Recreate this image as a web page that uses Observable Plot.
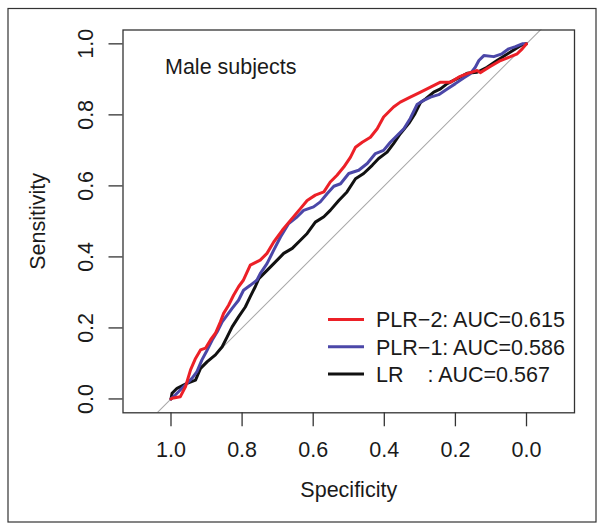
<!DOCTYPE html>
<html>
<head>
<meta charset="utf-8">
<script src="https://cdn.jsdelivr.net/npm/d3@7"></script>
<script src="https://cdn.jsdelivr.net/npm/@observablehq/plot@0.6"></script>
<style>
  html, body { margin: 0; padding: 0; background: #fff; }
  #chart { width: 604px; height: 531px; }
</style>
</head>
<body>
<div id="chart"></div>
<script>
// ---- data ----
const seriesNames = ["LR", "PLR-1", "PLR-2"];
const legendLabels = ["PLR\u22122: AUC=0.615", "PLR\u22121: AUC=0.586", "LR    : AUC=0.567"];
const legendSeries = ["PLR-2", "PLR-1", "LR"];
const xTicks = [1.0, 0.8, 0.6, 0.4, 0.2, 0.0];
const yTicks = [0.0, 0.2, 0.4, 0.6, 0.8, 1.0];
const refLine = [-0.2, 1.2];

const spec_PLR2 = [1.000,0.997,0.974,0.959,0.945,0.931,0.917,0.903,0.889,0.875,0.861,0.852,0.838,0.824,0.810,0.796,0.777,0.749,0.730,0.711,0.687,0.664,0.636,0.617,0.594,0.570,0.552,0.533,0.514,0.495,0.481,0.462,0.439,0.420,0.402,0.388,0.374,0.355,0.327,0.298,0.270,0.242,0.214,0.191,0.167,0.139,0.130,0.102,0.073,0.045,0.026,0.012,0.000];
const sens_PLR2 = [0.000,0.002,0.006,0.035,0.082,0.114,0.138,0.143,0.166,0.185,0.217,0.241,0.264,0.292,0.316,0.335,0.377,0.391,0.410,0.442,0.475,0.503,0.536,0.559,0.574,0.583,0.611,0.630,0.653,0.681,0.709,0.723,0.737,0.761,0.794,0.808,0.822,0.836,0.850,0.864,0.878,0.892,0.892,0.906,0.916,0.925,0.919,0.936,0.953,0.964,0.972,0.986,1.000];

const spec_PLR1 = [1.000,0.988,0.964,0.941,0.927,0.913,0.898,0.884,0.870,0.856,0.842,0.828,0.810,0.796,0.777,0.758,0.749,0.730,0.711,0.692,0.669,0.645,0.627,0.599,0.580,0.561,0.542,0.523,0.500,0.472,0.448,0.425,0.402,0.383,0.364,0.345,0.327,0.308,0.289,0.270,0.247,0.223,0.200,0.177,0.158,0.144,0.134,0.120,0.092,0.069,0.050,0.031,0.012,0.000];
const sens_PLR1 = [0.000,0.011,0.035,0.058,0.077,0.110,0.138,0.166,0.189,0.217,0.236,0.255,0.278,0.306,0.320,0.335,0.353,0.381,0.419,0.456,0.494,0.513,0.531,0.541,0.555,0.578,0.599,0.606,0.635,0.644,0.663,0.691,0.700,0.723,0.742,0.761,0.790,0.829,0.841,0.850,0.857,0.873,0.888,0.904,0.916,0.934,0.953,0.967,0.964,0.972,0.986,0.992,1.000,1.000];

const spec_LR = [1.000,0.997,0.983,0.955,0.931,0.917,0.898,0.875,0.856,0.842,0.828,0.810,0.791,0.777,0.763,0.753,0.734,0.711,0.683,0.659,0.636,0.617,0.594,0.570,0.552,0.528,0.505,0.481,0.458,0.434,0.416,0.392,0.374,0.355,0.331,0.315,0.298,0.284,0.261,0.242,0.223,0.195,0.167,0.139,0.111,0.083,0.045,0.017,0.003,0.000];
const sens_LR = [0.000,0.016,0.030,0.044,0.053,0.086,0.105,0.124,0.147,0.175,0.203,0.231,0.259,0.288,0.316,0.339,0.358,0.381,0.410,0.424,0.447,0.466,0.498,0.513,0.531,0.559,0.583,0.620,0.635,0.658,0.677,0.695,0.719,0.747,0.776,0.801,0.835,0.845,0.864,0.873,0.888,0.902,0.917,0.920,0.934,0.953,0.977,0.995,1.000,1.000];

const colors = {"LR": "#111111", "PLR-1": "#4b47a8", "PLR-2": "#ec2027"};

// ---- build table ----
const rows = [];
function add(name, xs, ys) { xs.forEach((x, i) => rows.push({series: name, spec: x, sens: ys[i]})); }
add("LR", spec_LR, sens_LR);
add("PLR-1", spec_PLR1, sens_PLR1);
add("PLR-2", spec_PLR2, sens_PLR2);

const FONT = "'Liberation Sans', Arial, Helvetica, sans-serif";
const FS = 21.5;

const plot = Plot.plot({
  width: 604,
  height: 531,
  marginLeft: 122.5,
  marginRight: 30,
  marginTop: 29.5,
  marginBottom: 118.7,
  style: {fontFamily: FONT, fontSize: FS + "px", color: "#1a1a1a", background: "#fff"},
  x: {domain: [1.135, -0.135]},
  y: {domain: [-0.039, 1.039]},
  marks: [
    Plot.line(refLine, {x: d => d, y: d => 1 - d, stroke: "#aaaaaa", strokeWidth: 1.1, clip: true}),
    ...seriesNames.map(name => Plot.line(rows.filter(r => r.series === name), {
      x: "spec", y: "sens", stroke: colors[name], strokeWidth: 3, strokeLinejoin: "round", curve: "linear"
    })),
    Plot.frame({stroke: "#333", strokeWidth: 1.3}),
    Plot.axisX({ticks: xTicks, tickFormat: d3.format(".1f"), tickSize: 14, tickPadding: 15,
      stroke: "#333", strokeWidth: 1.3, fontSize: FS,
      label: "Specificity", labelAnchor: "center", labelOffset: 84, labelArrow: false}),
    Plot.axisY({ticks: yTicks, tickFormat: d3.format(".1f"), tickSize: 14, tickRotate: -90, tickPadding: 16,
      stroke: "#333", strokeWidth: 1.3, fontSize: FS,
      label: "Sensitivity", labelAnchor: "center", labelOffset: 93, labelArrow: false})
  ]
});

const svg = d3.select(plot);
// outer box
svg.insert("rect", ":first-child")
  .attr("x", 8).attr("y", 8.5).attr("width", 588).attr("height", 513.5)
  .attr("fill", "none").attr("stroke", "#333").attr("stroke-width", 1.2);

// title inside plot
svg.append("text").attr("x", 165).attr("y", 74)
  .attr("text-anchor", "start")
  .attr("font-family", FONT).attr("font-size", FS).attr("fill", "#1a1a1a")
  .text("Male subjects");

// legend
const lg = svg.append("g").attr("font-family", FONT).attr("font-size", FS)
  .attr("fill", "#1a1a1a").attr("text-anchor", "start");
legendLabels.forEach((lab, i) => {
  const y = 319.5 + i * 27.3;
  lg.append("line").attr("x1", 328).attr("x2", 364).attr("y1", y).attr("y2", y)
    .attr("stroke", colors[legendSeries[i]]).attr("stroke-width", 3);
  lg.append("text").attr("x", 376).attr("y", y).attr("dy", "0.36em")
    .style("white-space", "pre").text(lab);
});

document.getElementById("chart").appendChild(plot);
</script>
</body>
</html>
